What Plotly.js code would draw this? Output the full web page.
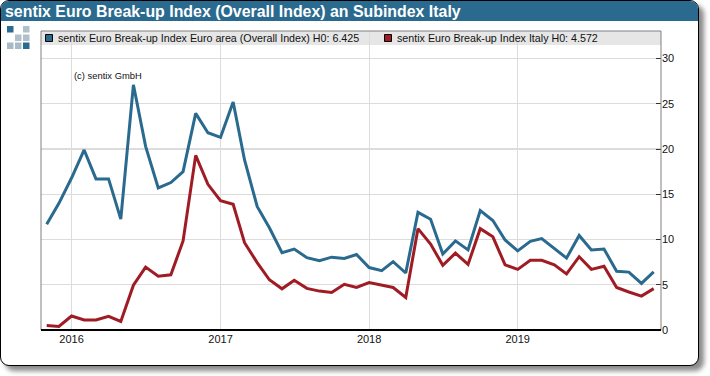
<!DOCTYPE html>
<html>
<head>
<meta charset="utf-8">
<script src="https://cdn.plot.ly/plotly-3.0.1.min.js"></script>
<style>
html,body{margin:0;padding:0;background:#fff;width:710px;height:376px;overflow:hidden}
#card{position:absolute;left:0;top:0;width:697px;height:364px;background:#fff;border:1px solid #000;border-radius:9px;box-shadow:5px 5px 5px #8a8a8a;box-sizing:content-box}
#bar{position:absolute;left:0;top:0;width:100%;height:20px;background:#2a6a8e;border-radius:8px 8px 0 0}
#chart{position:absolute;left:0;top:0;width:710px;height:376px}
</style>
</head>
<body>
<div id="card"><div id="bar"></div></div>
<div id="chart"></div>
<script>
const months = ["2015-11","2015-12",
"2016-01","2016-02","2016-03","2016-04","2016-05","2016-06","2016-07","2016-08","2016-09","2016-10","2016-11","2016-12",
"2017-01","2017-02","2017-03","2017-04","2017-05","2017-06","2017-07","2017-08","2017-09","2017-10","2017-11","2017-12",
"2018-01","2018-02","2018-03","2018-04","2018-05","2018-06","2018-07","2018-08","2018-09","2018-10","2018-11","2018-12",
"2019-01","2019-02","2019-03","2019-04","2019-05","2019-06","2019-07","2019-08","2019-09","2019-10","2019-11","2019-12"];
const euroArea = [11.7,14.0,
16.8,19.9,16.7,16.7,12.25,27.1,20.3,15.7,16.3,17.5,23.95,21.8,
21.3,25.2,18.8,13.65,11.3,8.55,8.95,8.0,7.65,8.05,7.9,8.35,
6.9,6.55,7.55,6.3,13.0,12.25,8.4,9.85,8.85,13.2,12.1,9.95,
8.75,9.8,10.1,9.0,7.95,10.45,8.85,8.95,6.5,6.4,5.15,6.425];
const italy = [0.5,0.4,
1.55,1.1,1.1,1.5,0.95,4.95,6.95,5.95,6.1,9.85,19.3,16.1,
14.3,13.9,9.65,7.45,5.55,4.55,5.5,4.6,4.3,4.15,5.05,4.7,
5.25,4.95,4.7,3.6,11.2,9.5,7.15,8.5,7.25,11.2,10.3,7.2,
6.7,7.7,7.7,7.2,6.2,8.1,6.7,7.05,4.7,4.2,3.75,4.572];
const seriesNames = ["sentix Euro Break-up Index Euro area (Overall Index) H0: 6.425","sentix Euro Break-up Index Italy H0: 4.572"];
const tickDates = ["2016-01-01","2017-01-01","2018-01-01","2019-01-01"];
const tickText = ["2016","2017","2018","2019"];
const yTicks = [0,5,10,15,20,25,30];
const titleText = "sentix Euro Break-up Index (Overall Index) an Subindex Italy";
const creditText = "(c) sentix GmbH";
const BLUE = "#2a6a8e", RED = "#a01c24";

// page-pixel helpers for the plot box
const W=710,H=376,L=41,R=661,T=31,B=330;
const px=x=>(x-L)/(R-L), py=y=>(B-y)/(B-T);

const dates = months.map(m=>m+"-01");
const trace=(y,c,n)=>({x:dates,y:y,name:n,type:"scatter",mode:"lines",line:{color:c,width:3,shape:"linear"},showlegend:false,hoverinfo:"x+y",cliponaxis:false});

const mosaic=[[7,26,"#2a6a8e"],[23,26,"#b0c0cb"],[15,34.5,"#b0c0cb"],[23,34.5,"#b0c0cb"],[7,42.5,"#a8bac6"],[15,42.5,"#a8bac6"],[23,42.5,"#2a6a8e"]];
const rect=(x0,y0,x1,y1,fill,lc,lw,layer)=>({type:"rect",xref:"paper",yref:"paper",x0:px(x0),x1:px(x1),y0:py(y1),y1:py(y0),fillcolor:fill,line:{color:lc||fill,width:lw||0},layer:layer||"below"});

const shapes=[
  rect(L,T,R,45,"#e6e6e6"),
  rect(45.5,34.5,52.5,41.5,BLUE,"#000",1,"above"),
  rect(384.5,34.5,391.5,41.5,RED,"#000",1,"above"),
  ...mosaic.map(m=>rect(m[0],m[1],m[0]+6.5,m[1]+6.5,m[2]))
];
const note=(x,y,t,size,color,extra)=>Object.assign({xref:"paper",yref:"paper",x:px(x),y:py(y),text:t,showarrow:false,xanchor:"left",yanchor:"middle",align:"left",font:{family:"Liberation Sans, Arial, sans-serif",size:size,color:color},borderpad:0},extra||{});

const layout={
  width:W,height:H,autosize:false,
  margin:{l:L,r:W-R,t:T,b:H-B,pad:0},
  paper_bgcolor:"rgba(0,0,0,0)",plot_bgcolor:"rgba(0,0,0,0)",
  font:{family:"Liberation Sans, Arial, sans-serif",size:12,color:"#111"},
  title:{text:titleText,x:5/W,xanchor:"left",xref:"container",y:1-11.5/H,yanchor:"middle",font:{family:"Liberation Sans, Arial, sans-serif",size:15.9,color:"#fff",weight:"bold"}},
  xaxis:{type:"date",range:["2015-10-18","2019-12-19"],tickvals:tickDates,ticktext:tickText,tickmode:"array",showgrid:true,gridcolor:"#dcdcdc",gridwidth:1.2,zeroline:false,showline:false,ticks:"",ticklabelstandoff:1,tickfont:{size:11,color:"#111"},automargin:false},
  yaxis:{side:"right",range:[0,33.05],tickvals:yTicks,tickmode:"array",showgrid:true,gridcolor:"#dcdcdc",gridwidth:1.2,zeroline:false,showline:false,ticks:"inside",ticklen:5,tickcolor:"#333",tickwidth:1,tickfont:{size:11,color:"#111"},automargin:false},
  shapes:shapes.concat([
    {type:"line",xref:"paper",yref:"paper",x0:0,x1:0,y0:0,y1:1,line:{color:"#808080",width:1},layer:"above"},
    {type:"line",xref:"paper",yref:"paper",x0:1,x1:1,y0:0,y1:1,line:{color:"#808080",width:1},layer:"above"},
    {type:"line",xref:"paper",yref:"paper",x0:0,x1:1,y0:1,y1:1,line:{color:"#808080",width:1},layer:"above"},
    {type:"line",xref:"paper",yref:"paper",x0:0,x1:1,y0:0,y1:0,line:{color:"#000",width:2},layer:"above"}
  ]),
  annotations:[
    note(57,38,seriesNames[0],10.7,"#111"),
    note(395.5,38,seriesNames[1],10.7,"#111"),
    note(73,75.5,creditText,9.4,"#111")
  ]
};
Plotly.newPlot("chart",[trace(euroArea,BLUE,seriesNames[0]),trace(italy,RED,seriesNames[1])],layout,{displayModeBar:false,staticPlot:true});
</script>
</body>
</html>
